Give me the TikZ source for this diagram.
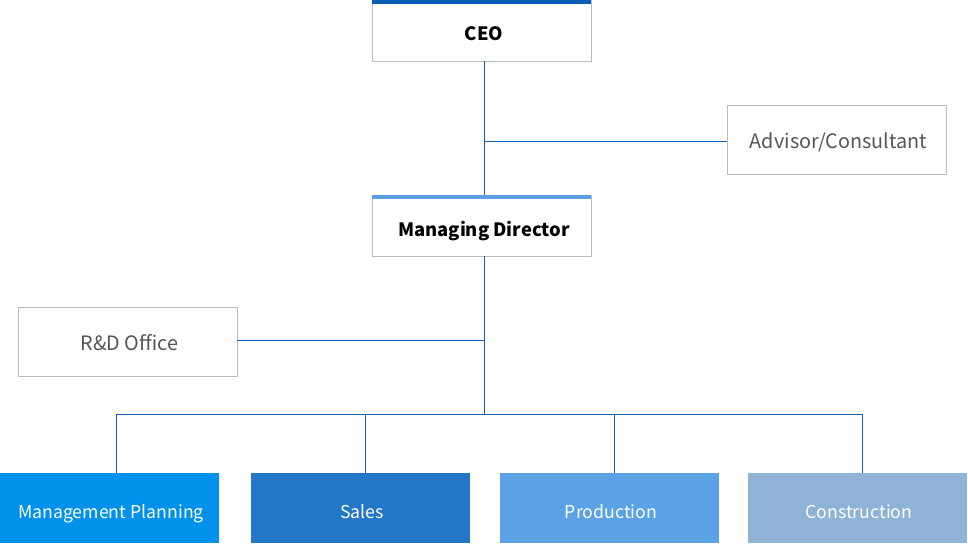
\documentclass[tikz,border=0pt]{standalone}
\usepackage{fontspec}
\setmainfont{Noto Sans CJK KR}
\usetikzlibrary{positioning}
\definecolor{barDark}{HTML}{0B5DB3}
\definecolor{barLight}{HTML}{5AA0E2}
\definecolor{boxGray}{HTML}{BBBBBB}
\definecolor{txtGray}{HTML}{555555}
\definecolor{lineBlue}{HTML}{1D62B0}
\definecolor{deptA}{HTML}{0091EA}
\definecolor{deptB}{HTML}{2277C7}
\definecolor{deptC}{HTML}{5AA2E3}
\definecolor{deptD}{HTML}{8FB3D6}
\tikzset{
	head/.style={draw=boxGray, line width=0.8pt, fill=white, minimum width=219pt, minimum height=61pt, inner sep=0pt,
		text height=25pt, text depth=4pt, execute at begin node={\hspace*{5pt}}, font=\fontsize{18.4}{20}\selectfont\bfseries},
	side/.style={draw=boxGray, line width=0.8pt, fill=white, minimum width=219pt, minimum height=69pt, inner sep=0pt,
		text height=22pt, text depth=4pt, execute at begin node={\hspace*{4pt}}, text=txtGray, font=\fontsize{19.8}{22}\selectfont},
	dept/.style={minimum width=219pt, minimum height=70pt, inner sep=0pt,
		text height=24pt, text depth=4pt, execute at begin node={\hspace*{3pt}}, text=white, font=\fontsize{17.7}{20}\selectfont},
	link/.style={draw=lineBlue, line width=0.9pt}
}
\begin{document}
\begin{tikzpicture}[x=1pt, y=-1pt, line join=round]
	\useasboundingbox (0,0) rectangle (968,543);
	% boxes
	\node[head] (ceo) at (481.5,30.5) {CEO};
	\node[head] (md) at (481.5,225.5) {Managing Director};
	\node[side] (adv) at (836.5,139.5) {Advisor/Consultant};
	\node[side] (rd) at (127.5,341.5) {R\&D Office};
	\node[dept, fill=deptA] (mp) at (109.5,508) {Management Planning};
	\node[dept, fill=deptB] (sales) at (360.5,508) {Sales};
	\node[dept, fill=deptC] (prod) at (609.5,508) {Production};
	\node[dept, fill=deptD] (cons) at (857.5,508) {Construction};
	% top bars
	\draw[barDark, line width=4pt] ([yshift=-2pt]ceo.north west) -- ([yshift=-2pt]ceo.north east);
	\draw[barLight, line width=4pt] ([yshift=-2pt]md.north west) -- ([yshift=-2pt]md.north east);
	% connectors
	\coordinate (bus) at (484,414);
	\path[link] ([xshift=2.5pt]ceo.south) -- ([xshift=2.5pt]md.north);
	\path[link] (adv.west |- 0,141) -- (484,141);
	\path[link] ([xshift=2.5pt]md.south) -- (bus);
	\path[link] (rd.east |- 0,340) -- (484,340);
	\path[link] (bus -| 116,0) -- (bus -| 862,0);
	\foreach \d/\x in {mp/116, sales/365, prod/614, cons/862}
		\path[link] (bus -| \x,0) -- (\d.north -| \x,0);
\end{tikzpicture}
\end{document}
